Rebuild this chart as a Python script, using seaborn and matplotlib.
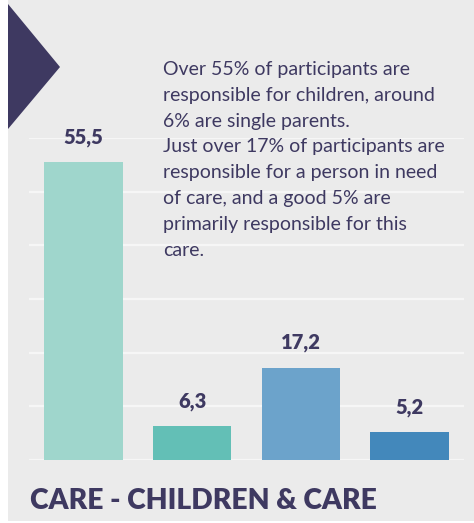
import matplotlib
matplotlib.use('Agg')
import matplotlib.pyplot as plt
import seaborn as sns
import pandas as pd
from matplotlib.patches import Rectangle, Polygon

categories = ['Children', 'Single parents', 'Person in need of care', 'Main carer']
values = [55.5, 6.3, 17.2, 5.2]
labels = ['55,5', '6,3', '17,2', '5,2']
colors = ['#9fd6cc', '#63bfb6', '#6ca3cb', '#4388bb']
title = 'CARE - CHILDREN & CARE'
note = ('Over 55% of participants are\n'
        'responsible for children, around\n'
        '6% are single parents.\n'
        'Just over 17% of participants are\n'
        'responsible for a person in need\n'
        'of care, and a good 5% are\n'
        'primarily responsible for this\n'
        'care.')

purple = '#3e3961'
panel = '#ebebeb'

sns.set_style('white')
plt.rcParams['font.family'] = ['Lato', 'DejaVu Sans']

W, H = 474, 523
fig = plt.figure(figsize=(W / 100, H / 100), dpi=100)
fig.patch.set_facecolor('white')

# grey panel + triangle
fig.patches.append(Rectangle((8 / W, 2 / H), 1, 1, transform=fig.transFigure,
                             facecolor=panel, edgecolor='none', zorder=-2))
fig.patches.append(Polygon([(8 / W, 1 - 4 / H), (60 / W, 1 - 67 / H), (8 / W, 1 - 129 / H)],
                           closed=True, transform=fig.transFigure,
                           facecolor=purple, edgecolor='none', zorder=-1))

ax = fig.add_axes([29 / W, (H - 460) / H, (464 - 29) / W, (460 - 138) / H])
ax.set_facecolor('none')
ax.set_zorder(2)

df = pd.DataFrame({'cat': categories, 'val': values})
sns.barplot(data=df, x='cat', y='val', hue='cat', palette=colors, legend=False,
            width=0.72, saturation=1, linewidth=0, edgecolor='none', ax=ax, zorder=3)

ax.set_ylim(0, 60)
ax.set_xlim(-0.5, 3.5)
ax.set_yticks(range(0, 61, 10))
ax.yaxis.grid(True, color='#f6f6f6', lw=1.6, zorder=0)
ax.set_axisbelow(True)
ax.set_xticks([])
ax.set_yticklabels([])
ax.tick_params(left=False, bottom=False)
ax.set_xlabel('')
ax.set_ylabel('')
for s in ax.spines.values():
    s.set_visible(False)

for i, (v, lab) in enumerate(zip(values, labels)):
    ax.annotate(lab, (i, v), xytext=(0, 11), textcoords='offset points',
                ha='center', va='bottom', fontsize=14.5, fontweight='heavy', color=purple)

fig.text(163 / W, 1 - 61 / H, note, ha='left', va='top', fontsize=14,
         color=purple, linespacing=1.63, zorder=5)
fig.text(30 / W, 14 / H, title, ha='left', va='baseline', fontsize=20.3,
         fontweight='heavy', color=purple)

fig.savefig('out.png', dpi=100, facecolor='white')
